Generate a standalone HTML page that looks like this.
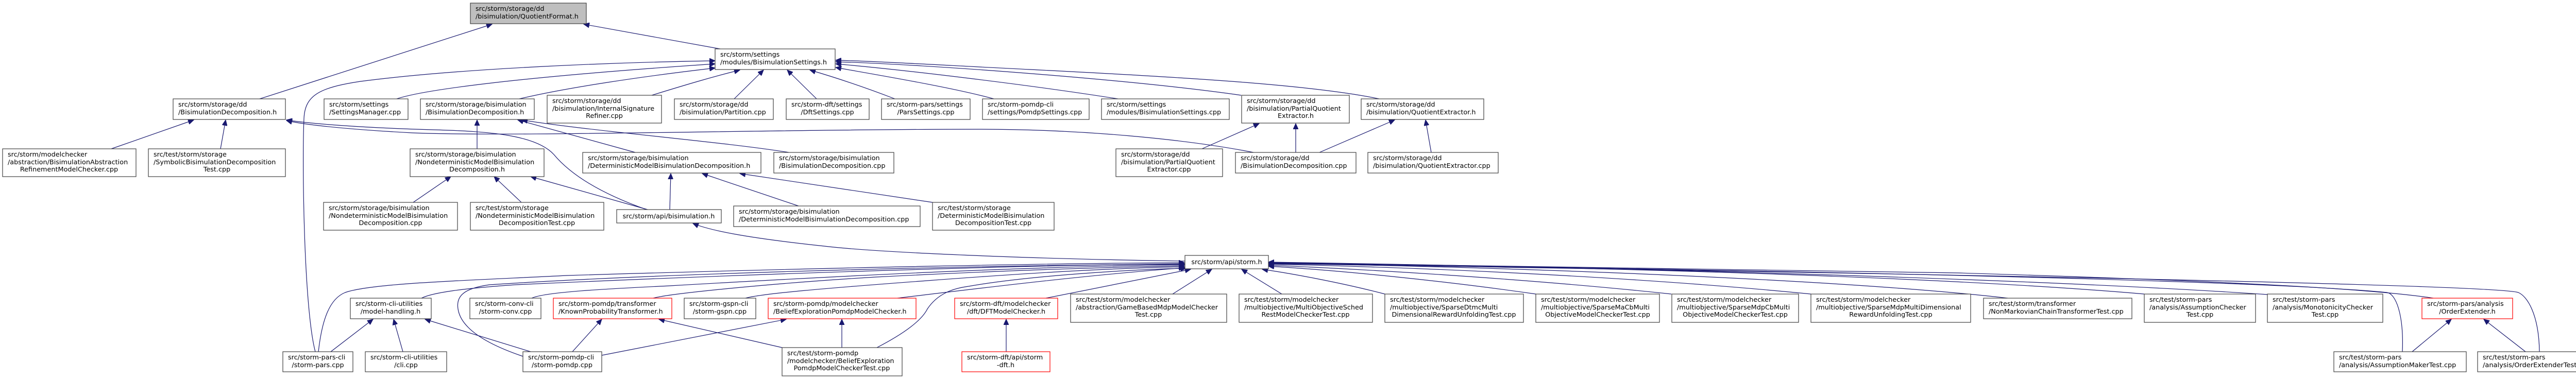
<!DOCTYPE html>
<html><head><meta charset="utf-8"><style>
html,body{margin:0;padding:0;background:#fff;}
svg{display:block;}
text{font-family:"DejaVu Sans","Liberation Sans",sans-serif;font-size:12.8px;fill:#000;}
.n{fill:#fff;stroke:#404040;stroke-width:1.2;}
.r{fill:#fff;stroke:#ff0000;stroke-width:1.2;}
.g{fill:#bfbfbf;stroke:#404040;stroke-width:1.2;}
.e{fill:none;stroke:#191970;stroke-width:1.2;marker-end:url(#a);}
</style></head><body>
<svg width="5042" height="736" viewBox="0 0 5042 736" xmlns="http://www.w3.org/2000/svg">
<defs><marker id="a" markerUnits="userSpaceOnUse" markerWidth="12" markerHeight="10" refX="11" refY="5" orient="auto"><path d="M0,0 L11,5 L0,10 z" fill="#191970" stroke="#191970"/></marker></defs>

<path class="e" d="M504,192 L955,47"/>
<path class="e" d="M1398,95 L1133,47"/>
<path class="e" d="M612,683 C590,600 586,320 590,230 C592,185 620,170 700,158 C900,132 1200,121 1388,118"/>
<path class="e" d="M770,192 C820,175 1000,150 1388,124"/>
<path class="e" d="M1008,192 C1100,170 1250,148 1388,132"/>
<path class="e" d="M1265,185 C1330,165 1380,150 1436,136"/>
<path class="e" d="M1425,192 L1482,136"/>
<path class="e" d="M1585,192 L1528,136"/>
<path class="e" d="M1737,192 C1680,170 1620,150 1572,136"/>
<path class="e" d="M1929,192 C1850,170 1700,145 1622,131"/>
<path class="e" d="M2170,192 C2000,165 1750,135 1622,124"/>
<path class="e" d="M2409,185 C2200,155 1800,125 1622,120"/>
<path class="e" d="M2677,192 C2550,165 2300,150 2000,135 C1800,125 1700,119 1622,117"/>

<path class="e" d="M216,289 L376,233"/>
<path class="e" d="M428,289 L438,233"/>
<path class="e" d="M1255,407 C1150,370 1100,330 1075,300 C1040,262 950,255 840,252 C700,248 600,240 556,233"/>
<path class="e" d="M2433,296 C2300,270 2100,251 1900,251 C1500,251 1000,266 800,258 C650,250 580,240 556,234"/>

<path class="e" d="M926,289 L926,233"/>
<path class="e" d="M1233,296 L1005,233"/>
<path class="e" d="M1531,296 C1400,275 1150,255 1013,233"/>

<path class="e" d="M802,393 L875,343"/>
<path class="e" d="M1012,393 L959,343"/>
<path class="e" d="M1257,407 L1030,343"/>

<path class="e" d="M1300,407 L1302,337"/>
<path class="e" d="M1550,400 L1363,337"/>
<path class="e" d="M1810,393 L1436,337"/>

<path class="e" d="M2333,289 L2444,240"/>
<path class="e" d="M2515,296 L2515,240"/>
<path class="e" d="M2561,296 L2707,233"/>
<path class="e" d="M2778,296 L2767,233"/>

<path class="e" d="M2300,507 C2000,503 1700,490 1600,478 C1450,462 1380,448 1345,434"/>

<path class="e" d="M618,683 C625,620 640,580 670,568 C720,550 900,545 1100,535 C1600,520 2000,512 2299,510"/>
<path class="e" d="M818,579 C840,568 900,560 1000,553 C1500,530 2000,515 2299,512"/>
<path class="e" d="M1032,579 C1060,566 1200,560 1300,555 C1700,532 2000,518 2299,514"/>
<path class="e" d="M1268,579 C1300,570 1500,550 1700,538 C1950,525 2150,519 2299,516"/>
<path class="e" d="M1447,579 C1480,570 1600,560 1800,545 C2000,530 2150,521 2299,518"/>
<path class="e" d="M1742,579 C1900,560 2100,535 2299,520"/>
<path class="e" d="M1702,675 C1760,645 1790,620 1800,600 C1820,570 1850,560 1880,556 C2000,535 2200,523 2303,521"/>
<path class="e" d="M1015,692 C950,670 895,640 889,600 C885,575 900,560 950,553 C1300,530 1900,515 2299,513"/>
<path class="e" d="M2030,579 C2150,555 2250,535 2311,523"/>
<path class="e" d="M2276,571 L2352,523"/>
<path class="e" d="M2488,571 L2410,523"/>
<path class="e" d="M2688,571 C2600,548 2500,530 2450,523"/>
<path class="e" d="M2981,571 C2800,545 2600,525 2462,517"/>
<path class="e" d="M3244,571 C3000,545 2700,525 2462,515"/>
<path class="e" d="M3515,571 C3200,540 2800,520 2462,513"/>
<path class="e" d="M3897,579 C3600,545 3000,520 2462,511"/>
<path class="e" d="M4162,571 C3800,540 3200,520 2462,510"/>
<path class="e" d="M4402,572 C4000,545 3300,522 2462,509"/>
<path class="e" d="M4723,579 C4600,560 4300,545 3800,530 C3200,518 2800,512 2462,510"/>
<path class="e" d="M4663,683 C4666,610 4650,570 4633,568 C4400,545 3500,525 2462,511"/>
<path class="e" d="M4929,683 C4928,610 4905,575 4888,568 C4850,555 4000,535 2462,512"/>

<path class="e" d="M642,683 L724,620"/>
<path class="e" d="M782,683 L764,620"/>
<path class="e" d="M1030,683 L825,620"/>
<path class="e" d="M1111,683 L1168,620"/>
<path class="e" d="M1518,675 L1279,620"/>
<path class="e" d="M1168,690 L1526,620"/>
<path class="e" d="M1634,675 L1634,620"/>
<path class="e" d="M1953,683 L1953,620"/>
<path class="e" d="M4682,683 L4758,620"/>
<path class="e" d="M4902,683 L4821,620"/>

<rect class="g" x="913" y="6" width="225" height="40"/><text x="923" y="21">src/storm/storage/dd</text><text x="923" y="36">/bisimulation/QuotientFormat.h</text>
<rect class="n" x="1388" y="95" width="233" height="40"/><text x="1398" y="110">src/storm/settings</text><text x="1398" y="125">/modules/BisimulationSettings.h</text>
<rect class="n" x="336" y="192" width="218" height="40"/><text x="346" y="207">src/storm/storage/dd</text><text x="346" y="222">/BisimulationDecomposition.h</text>
<rect class="n" x="629" y="192" width="163" height="40"/><text x="639" y="207">src/storm/settings</text><text x="639" y="222">/SettingsManager.cpp</text>
<rect class="n" x="816" y="192" width="221" height="40"/><text x="826" y="207">src/storm/storage/bisimulation</text><text x="826" y="222">/BisimulationDecomposition.h</text>
<rect class="n" x="1062" y="185" width="222" height="54"/><text x="1072" y="200">src/storm/storage/dd</text><text x="1072" y="215">/bisimulation/InternalSignature</text><text x="1173" y="229" text-anchor="middle">Refiner.cpp</text>
<rect class="n" x="1309" y="192" width="192" height="40"/><text x="1319" y="207">src/storm/storage/dd</text><text x="1319" y="222">/bisimulation/Partition.cpp</text>
<rect class="n" x="1526" y="192" width="161" height="40"/><text x="1536" y="207">src/storm-dft/settings</text><text x="1606" y="222" text-anchor="middle">/DftSettings.cpp</text>
<rect class="n" x="1711" y="192" width="172" height="40"/><text x="1721" y="207">src/storm-pars/settings</text><text x="1797" y="222" text-anchor="middle">/ParsSettings.cpp</text>
<rect class="n" x="1907" y="192" width="207" height="40"/><text x="1917" y="207">src/storm-pomdp-cli</text><text x="1917" y="222">/settings/PomdpSettings.cpp</text>
<rect class="n" x="2138" y="192" width="248" height="40"/><text x="2148" y="207">src/storm/settings</text><text x="2148" y="222">/modules/BisimulationSettings.cpp</text>
<rect class="n" x="2410" y="185" width="209" height="54"/><text x="2420" y="200">src/storm/storage/dd</text><text x="2420" y="215">/bisimulation/PartialQuotient</text><text x="2515" y="229" text-anchor="middle">Extractor.h</text>
<rect class="n" x="2642" y="192" width="238" height="40"/><text x="2652" y="207">src/storm/storage/dd</text><text x="2652" y="222">/bisimulation/QuotientExtractor.h</text>
<rect class="n" x="5" y="289" width="259" height="54"/><text x="15" y="304">src/storm/modelchecker</text><text x="15" y="319">/abstraction/BisimulationAbstraction</text><text x="134" y="333" text-anchor="middle">RefinementModelChecker.cpp</text>
<rect class="n" x="288" y="289" width="266" height="54"/><text x="298" y="304">src/test/storm/storage</text><text x="298" y="319">/SymbolicBisimulationDecomposition</text><text x="421" y="333" text-anchor="middle">Test.cpp</text>
<rect class="n" x="796" y="289" width="260" height="54"/><text x="806" y="304">src/storm/storage/bisimulation</text><text x="806" y="319">/NondeterministicModelBisimulation</text><text x="926" y="333" text-anchor="middle">Decomposition.h</text>
<rect class="n" x="1131" y="296" width="346" height="40"/><text x="1141" y="311">src/storm/storage/bisimulation</text><text x="1141" y="326">/DeterministicModelBisimulationDecomposition.h</text>
<rect class="n" x="1502" y="296" width="233" height="40"/><text x="1512" y="311">src/storm/storage/bisimulation</text><text x="1512" y="326">/BisimulationDecomposition.cpp</text>
<rect class="n" x="2166" y="289" width="207" height="54"/><text x="2176" y="304">src/storm/storage/dd</text><text x="2176" y="319">/bisimulation/PartialQuotient</text><text x="2269" y="333" text-anchor="middle">Extractor.cpp</text>
<rect class="n" x="2398" y="296" width="234" height="40"/><text x="2408" y="311">src/storm/storage/dd</text><text x="2408" y="326">/BisimulationDecomposition.cpp</text>
<rect class="n" x="2655" y="296" width="253" height="40"/><text x="2665" y="311">src/storm/storage/dd</text><text x="2665" y="326">/bisimulation/QuotientExtractor.cpp</text>
<rect class="n" x="628" y="393" width="260" height="54"/><text x="638" y="408">src/storm/storage/bisimulation</text><text x="638" y="423">/NondeterministicModelBisimulation</text><text x="758" y="437" text-anchor="middle">Decomposition.cpp</text>
<rect class="n" x="913" y="393" width="259" height="54"/><text x="923" y="408">src/test/storm/storage</text><text x="923" y="423">/NondeterministicModelBisimulation</text><text x="1042" y="437" text-anchor="middle">DecompositionTest.cpp</text>
<rect class="n" x="1197" y="407" width="203" height="26"/><text x="1298" y="424" text-anchor="middle">src/storm/api/bisimulation.h</text>
<rect class="n" x="1424" y="400" width="362" height="40"/><text x="1434" y="415">src/storm/storage/bisimulation</text><text x="1434" y="430">/DeterministicModelBisimulationDecomposition.cpp</text>
<rect class="n" x="1810" y="393" width="236" height="54"/><text x="1820" y="408">src/test/storm/storage</text><text x="1820" y="423">/DeterministicModelBisimulation</text><text x="1928" y="437" text-anchor="middle">DecompositionTest.cpp</text>
<rect class="n" x="2300" y="496" width="162" height="26"/><text x="2381" y="513" text-anchor="middle">src/storm/api/storm.h</text>
<rect class="n" x="680" y="579" width="157" height="40"/><text x="690" y="594">src/storm-cli-utilities</text><text x="758" y="609" text-anchor="middle">/model-handling.h</text>
<rect class="n" x="912" y="579" width="138" height="40"/><text x="922" y="594">src/storm-conv-cli</text><text x="981" y="609" text-anchor="middle">/storm-conv.cpp</text>
<rect class="r" x="1074" y="579" width="230" height="40"/><text x="1084" y="594">src/storm-pomdp/transformer</text><text x="1084" y="609">/KnownProbabilityTransformer.h</text>
<rect class="n" x="1328" y="579" width="139" height="40"/><text x="1338" y="594">src/storm-gspn-cli</text><text x="1397" y="609" text-anchor="middle">/storm-gspn.cpp</text>
<rect class="r" x="1491" y="579" width="287" height="40"/><text x="1501" y="594">src/storm-pomdp/modelchecker</text><text x="1501" y="609">/BeliefExplorationPomdpModelChecker.h</text>
<rect class="r" x="1853" y="579" width="200" height="40"/><text x="1863" y="594">src/storm-dft/modelchecker</text><text x="1953" y="609" text-anchor="middle">/dft/DFTModelChecker.h</text>
<rect class="n" x="2078" y="571" width="303" height="55"/><text x="2088" y="586">src/test/storm/modelchecker</text><text x="2088" y="601">/abstraction/GameBasedMdpModelChecker</text><text x="2229" y="615" text-anchor="middle">Test.cpp</text>
<rect class="n" x="2405" y="571" width="259" height="55"/><text x="2415" y="586">src/test/storm/modelchecker</text><text x="2415" y="601">/multiobjective/MultiObjectiveSched</text><text x="2534" y="615" text-anchor="middle">RestModelCheckerTest.cpp</text>
<rect class="n" x="2688" y="571" width="269" height="55"/><text x="2698" y="586">src/test/storm/modelchecker</text><text x="2698" y="601">/multiobjective/SparseDtmcMulti</text><text x="2822" y="615" text-anchor="middle">DimensionalRewardUnfoldingTest.cpp</text>
<rect class="n" x="2981" y="571" width="240" height="55"/><text x="2991" y="586">src/test/storm/modelchecker</text><text x="2991" y="601">/multiobjective/SparseMaCbMulti</text><text x="3101" y="615" text-anchor="middle">ObjectiveModelCheckerTest.cpp</text>
<rect class="n" x="3245" y="571" width="246" height="55"/><text x="3255" y="586">src/test/storm/modelchecker</text><text x="3255" y="601">/multiobjective/SparseMdpCbMulti</text><text x="3368" y="615" text-anchor="middle">ObjectiveModelCheckerTest.cpp</text>
<rect class="n" x="3515" y="571" width="310" height="55"/><text x="3525" y="586">src/test/storm/modelchecker</text><text x="3525" y="601">/multiobjective/SparseMdpMultiDimensional</text><text x="3670" y="615" text-anchor="middle">RewardUnfoldingTest.cpp</text>
<rect class="n" x="3850" y="579" width="288" height="40"/><text x="3860" y="594">src/test/storm/transformer</text><text x="3860" y="609">/NonMarkovianChainTransformerTest.cpp</text>
<rect class="n" x="4162" y="571" width="216" height="55"/><text x="4172" y="586">src/test/storm-pars</text><text x="4172" y="601">/analysis/AssumptionChecker</text><text x="4270" y="615" text-anchor="middle">Test.cpp</text>
<rect class="n" x="4401" y="571" width="224" height="55"/><text x="4411" y="586">src/test/storm-pars</text><text x="4411" y="601">/analysis/MonotonicityChecker</text><text x="4513" y="615" text-anchor="middle">Test.cpp</text>
<rect class="r" x="4701" y="579" width="176" height="40"/><text x="4711" y="594">src/storm-pars/analysis</text><text x="4789" y="609" text-anchor="middle">/OrderExtender.h</text>
<rect class="n" x="549" y="683" width="136" height="39"/><text x="559" y="698">src/storm-pars-cli</text><text x="617" y="713" text-anchor="middle">/storm-pars.cpp</text>
<rect class="n" x="709" y="683" width="158" height="39"/><text x="719" y="698">src/storm-cli-utilities</text><text x="788" y="713" text-anchor="middle">/cli.cpp</text>
<rect class="n" x="1015" y="683" width="153" height="39"/><text x="1025" y="698">src/storm-pomdp-cli</text><text x="1091" y="713" text-anchor="middle">/storm-pomdp.cpp</text>
<rect class="n" x="1518" y="675" width="233" height="55"/><text x="1528" y="690">src/test/storm-pomdp</text><text x="1528" y="705">/modelchecker/BeliefExploration</text><text x="1634" y="719" text-anchor="middle">PomdpModelCheckerTest.cpp</text>
<rect class="r" x="1867" y="683" width="171" height="39"/><text x="1877" y="698">src/storm-dft/api/storm</text><text x="1952" y="713" text-anchor="middle">-dft.h</text>
<rect class="n" x="4530" y="683" width="257" height="39"/><text x="4540" y="698">src/test/storm-pars</text><text x="4540" y="713">/analysis/AssumptionMakerTest.cpp</text>
<rect class="n" x="4809" y="683" width="231" height="39"/><text x="4819" y="698">src/test/storm-pars</text><text x="4819" y="713" textLength="210" lengthAdjust="spacingAndGlyphs">/analysis/OrderExtenderTest.cpp</text>
</svg>
</body></html>
